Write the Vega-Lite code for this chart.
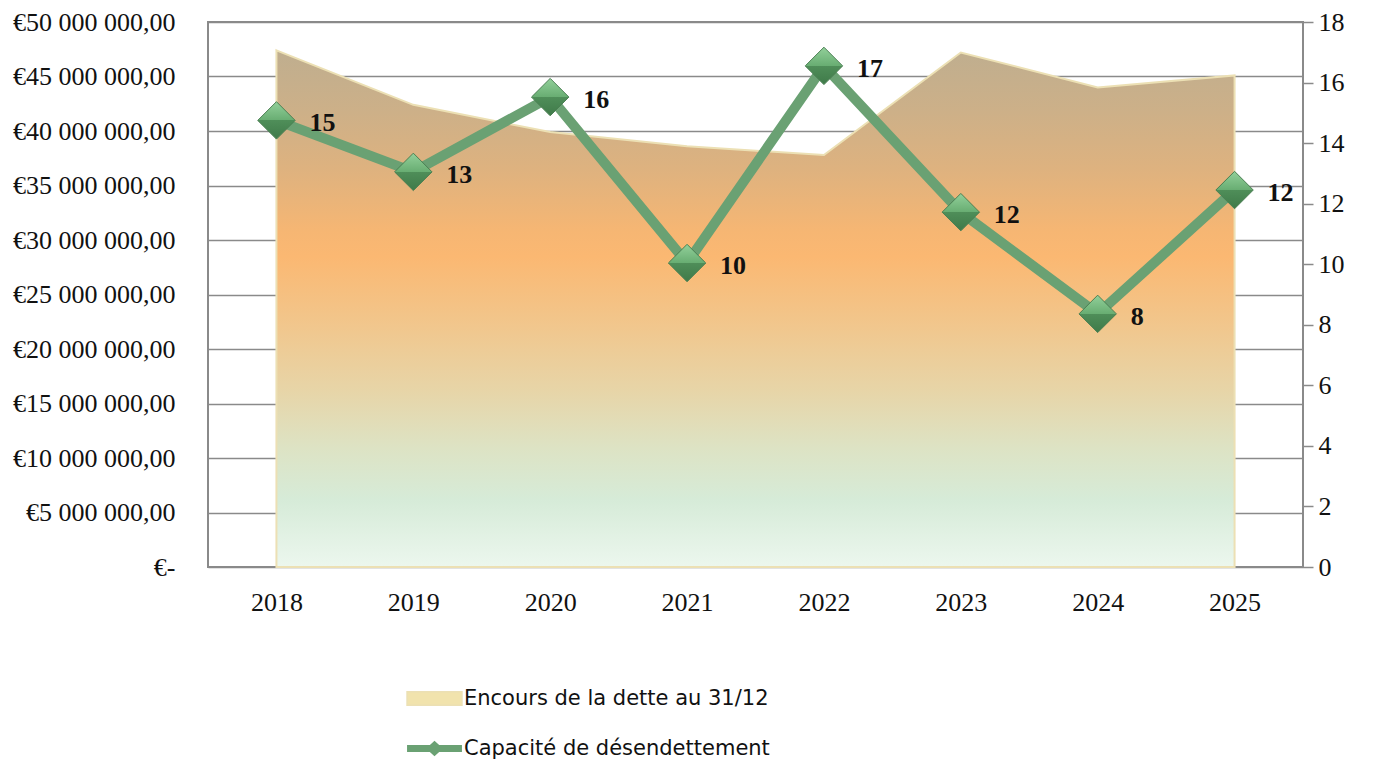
{
  "$schema": "https://vega.github.io/schema/vega-lite/v6.json",
  "width": 1095,
  "height": 545,
  "autosize": {"type": "none"},
  "padding": {"left": 208, "top": 22, "right": 73, "bottom": 198},
  "background": "white",
  "config": {
    "view": {"stroke": "#8a8a8a", "strokeWidth": 2},
    "axis": {"labelFont": "Liberation Serif", "labelFontSize": 26, "labelColor": "#111111", "title": null},
    "legend": {
      "title": null,
      "orient": "none",
      "legendX": 216,
      "legendY": 666,
      "direction": "vertical",
      "columns": 1,
      "padding": 0,
      "symbolSize": 900,
      "rowPadding": 22,
      "labelOffset": 19,
      "labelFont": "DejaVu Sans",
      "labelFontSize": 21,
      "labelColor": "#111111",
      "labelLimit": 600
    }
  },
  "data": {
    "values": [
      {"annee": "2018", "encours": 47400000, "capacite": 14.75},
      {"annee": "2019", "encours": 42400000, "capacite": 13.05},
      {"annee": "2020", "encours": 39900000, "capacite": 15.52},
      {"annee": "2021", "encours": 38600000, "capacite": 10.04},
      {"annee": "2022", "encours": 37800000, "capacite": 16.55},
      {"annee": "2023", "encours": 47200000, "capacite": 11.72},
      {"annee": "2024", "encours": 44000000, "capacite": 8.36},
      {"annee": "2025", "encours": 45100000, "capacite": 12.45}
    ]
  },
  "encoding": {
    "x": {
      "field": "annee", "type": "ordinal",
      "scale": {"type": "point", "padding": 0.5},
      "axis": {"labelAngle": 0, "ticks": false, "domain": false, "labelPadding": 22, "grid": false}
    }
  },
  "layer": [
    {
      "mark": {
        "type": "area",
        "strokeWidth": 2,
        "fill": {
          "gradient": "linear", "x1": 0, "y1": 0, "x2": 0, "y2": 1,
          "stops": [
            {"offset": 0, "color": "#bfae8f"},
            {"offset": 0.12, "color": "#cdb088"},
            {"offset": 0.23, "color": "#deb27f"},
            {"offset": 0.35, "color": "#f6b673"},
            {"offset": 0.4, "color": "#fbb872"},
            {"offset": 0.52, "color": "#f2c58a"},
            {"offset": 0.66, "color": "#e7d5a8"},
            {"offset": 0.77, "color": "#dde3c4"},
            {"offset": 0.87, "color": "#d6ebd8"},
            {"offset": 1, "color": "#ecf7ee"}
          ]
        },
        "fillOpacity": 1
      },
      "encoding": {
        "y": {
          "field": "encours", "type": "quantitative",
          "scale": {"domain": [0, 50000000], "nice": false},
          "axis": {
            "orient": "left",
            "values": [0, 5000000, 10000000, 15000000, 20000000, 25000000, 30000000, 35000000, 40000000, 45000000, 50000000],
            "grid": true, "gridColor": "#8a8a8a", "gridWidth": 1.5,
            "ticks": false, "domain": false, "labelPadding": 33,
            "labelExpr": "datum.value == 0 ? '€-' : '€' + replace(replace(format(datum.value, ',.2f'), regexp(',', 'g'), ' '), '.', ',')"
          }
        },
        "stroke": {
          "datum": "Encours de la dette au 31/12",
          "type": "nominal",
          "scale": {
            "domain": ["Encours de la dette au 31/12", "Capacité de désendettement"],
            "range": ["#ece0b4", "#6aa173"]
          },
          "legend": {
            "symbolType": "M-1.83,-0.45H1.83V0.45H-1.83Z",
            "symbolFillColor": "#f1e3ad",
            "symbolStrokeWidth": 1.5,
            "encode": {
              "symbols": {
                "update": {
                  "shape": {"signal": "datum.value === 'Capacité de désendettement' ? 'M-1.83,0H1.83M-0.22,0L0,-0.2L0.22,0L0,0.2Z' : 'M-1.83,-0.45H1.83V0.45H-1.83Z'"},
                  "strokeWidth": {"signal": "datum.value === 'Capacité de désendettement' ? 7 : 1.5"},
                  "stroke": {"signal": "datum.value === 'Capacité de désendettement' ? '#6aa173' : '#a89a7c'"},
                  "fill": {"signal": "datum.value === 'Capacité de désendettement' ? '#4f8a58' : '#f1e3ad'"},
                  "fillOpacity": {"value": 1},
                  "opacity": {"value": 1}
                }
              }
            }
          }
        }
      }
    },
    {
      "encoding": {
        "y": {
          "field": "capacite", "type": "quantitative",
          "scale": {"domain": [0, 18], "nice": false},
          "axis": {
            "orient": "right",
            "values": [0, 2, 4, 6, 8, 10, 12, 14, 16, 18],
            "grid": false, "ticks": true, "tickSize": 10, "tickColor": "#8a8a8a", "tickWidth": 1.5,
            "domain": false, "labelPadding": 5
          }
        }
      },
      "layer": [
        {
          "mark": {"type": "line", "strokeWidth": 10, "strokeJoin": "miter"},
          "encoding": {
            "stroke": {
              "datum": "Capacité de désendettement", "type": "nominal",
              "legend": {
                "symbolType": "M-1.83,-0.45H1.83V0.45H-1.83Z",
                "symbolFillColor": "#f1e3ad",
                "symbolStrokeWidth": 1.5,
                "encode": {
                  "symbols": {
                    "update": {
                      "shape": {"signal": "datum.value === 'Capacité de désendettement' ? 'M-1.83,0H1.83M-0.22,0L0,-0.2L0.22,0L0,0.2Z' : 'M-1.83,-0.45H1.83V0.45H-1.83Z'"},
                      "strokeWidth": {"signal": "datum.value === 'Capacité de désendettement' ? 7 : 1.5"},
                      "stroke": {"signal": "datum.value === 'Capacité de désendettement' ? '#6aa173' : '#a89a7c'"},
                      "fill": {"signal": "datum.value === 'Capacité de désendettement' ? '#4f8a58' : '#f1e3ad'"},
                      "fillOpacity": {"value": 1},
                      "opacity": {"value": 1}
                    }
                  }
                }
              }
            }
          }
        },
        {
          "mark": {
            "type": "point", "shape": "diamond", "size": 1400, "filled": true, "opacity": 1,
            "fill": {
              "gradient": "linear", "x1": 0, "y1": 0, "x2": 0, "y2": 1,
              "stops": [
                {"offset": 0, "color": "#92d09a"},
                {"offset": 0.5, "color": "#68ad72"},
                {"offset": 0.5, "color": "#4f8e59"},
                {"offset": 1, "color": "#3f7a49"}
              ]
            },
            "stroke": "#4a7f52", "strokeWidth": 1
          }
        },
        {
          "mark": {
            "type": "text", "align": "left", "baseline": "middle", "dx": 33, "dy": 3,
            "font": "Liberation Serif", "fontSize": 26, "fontWeight": "bold", "color": "#111111"
          },
          "encoding": {
            "text": {"field": "capacite", "type": "quantitative", "format": ".0f"}
          }
        }
      ]
    }
  ],
  "resolve": {"scale": {"y": "independent"}}
}
